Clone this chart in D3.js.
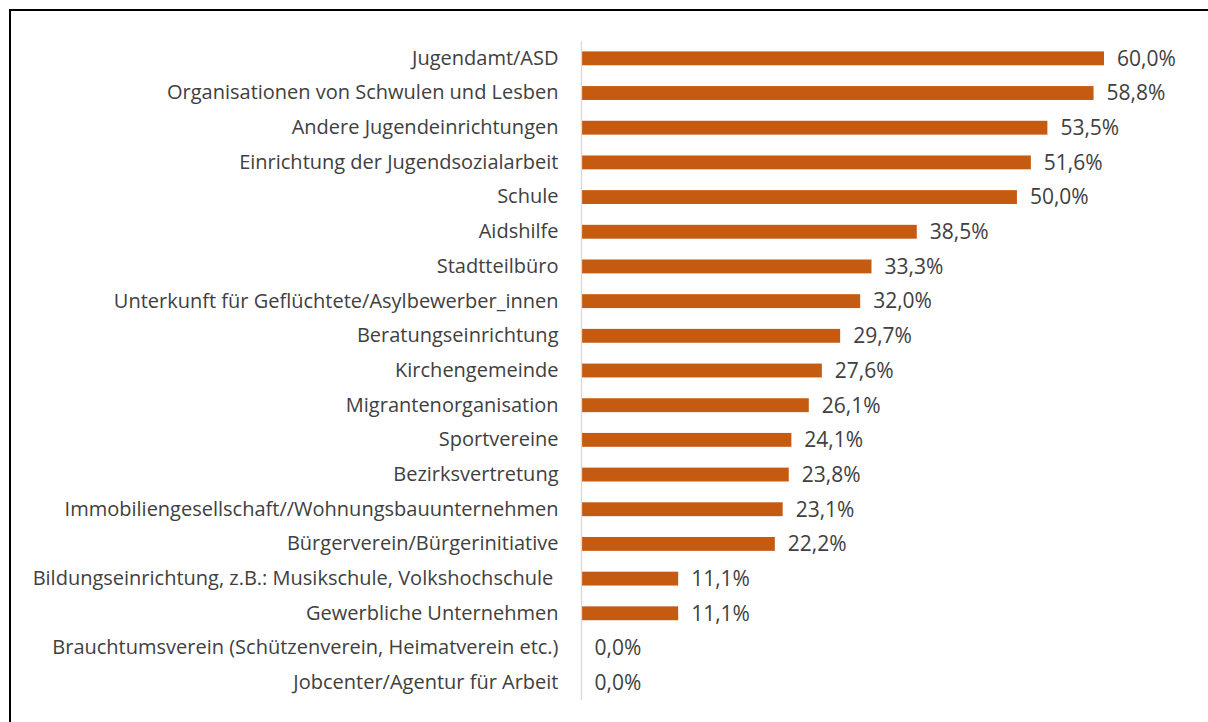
<!DOCTYPE html>
<html lang="de">
<head>
    <meta charset="UTF-8">
    <script src="https://cdn.jsdelivr.net/npm/d3@7"></script>
    <title>Kooperationspartner</title>
    <style>
        body { margin: 0; background: #fff; }
        text { font-family: "Open Sans", sans-serif; fill: #404040; white-space: pre; }
    </style>
</head>
<body>
    <svg width="1208" height="722"></svg>
    <script>
        const categories = [
            'Jugendamt/ASD',
            'Organisationen von Schwulen und Lesben',
            'Andere Jugendeinrichtungen',
            'Einrichtung der Jugendsozialarbeit',
            'Schule',
            'Aidshilfe',
            'Stadtteilbüro',
            'Unterkunft für Geflüchtete/Asylbewerber_innen',
            'Beratungseinrichtung',
            'Kirchengemeinde',
            'Migrantenorganisation',
            'Sportvereine',
            'Bezirksvertretung',
            'Immobiliengesellschaft//Wohnungsbauunternehmen',
            'Bürgerverein/Bürgerinitiative',
            'Bildungseinrichtung, z.B.: Musikschule, Volkshochschule ',
            'Gewerbliche Unternehmen',
            'Brauchtumsverein (Schützenverein, Heimatverein etc.)',
            'Jobcenter/Agentur für Arbeit'
        ];
        const values = [60.0, 58.8, 53.5, 51.6, 50.0, 38.5, 33.3, 32.0, 29.7, 27.6,
                        26.1, 24.1, 23.8, 23.1, 22.2, 11.1, 11.1, 0.0, 0.0];

        const svg = d3.select('svg');
        const data = categories.map((c, i) => ({ name: c, value: values[i] }));

        // chart frame (cut off at the right and bottom in the original)
        svg.append('rect')
            .attr('x', 10).attr('y', 10).attr('width', 1260).attr('height', 760)
            .attr('fill', 'none').attr('stroke', '#000').attr('stroke-width', 2);

        const x0 = 581.5;
        const x = d3.scaleLinear().domain([0, 60]).range([x0, 1104]);
        const y = d3.scaleBand().domain(categories).range([41, 700]).paddingInner(0.6).paddingOuter(0.3);

        const g = svg.append('g');

        g.selectAll('rect.bar').data(data).join('rect')
            .attr('class', 'bar')
            .attr('x', x(0))
            .attr('y', d => y(d.name))
            .attr('width', d => x(d.value) - x(0))
            .attr('height', y.bandwidth())
            .attr('fill', '#C55A11');

        // category axis
        const yAxis = g.append('g').attr('transform', `translate(${x0},0)`)
            .call(d3.axisLeft(y).tickSize(0).tickPadding(23));
        yAxis.select('.domain').attr('stroke', '#d9d9d9').attr('stroke-width', 1.3)
            .attr('d', 'M0,41V700');
        yAxis.selectAll('text')
            .attr('font-size', 20)
            .attr('font-family', '"Open Sans", sans-serif')
            .attr('fill', '#404040');

        g.selectAll('text.val').data(data).join('text')
            .attr('class', 'val')
            .attr('x', d => x(d.value) + 13)
            .attr('y', d => y(d.name) + y.bandwidth() / 2)
            .attr('dy', '0.35em')
            .attr('font-size', 21)
            .text(d => d3.format('.1f')(d.value).replace('.', ',') + '%');
    </script>
</body>
</html>
